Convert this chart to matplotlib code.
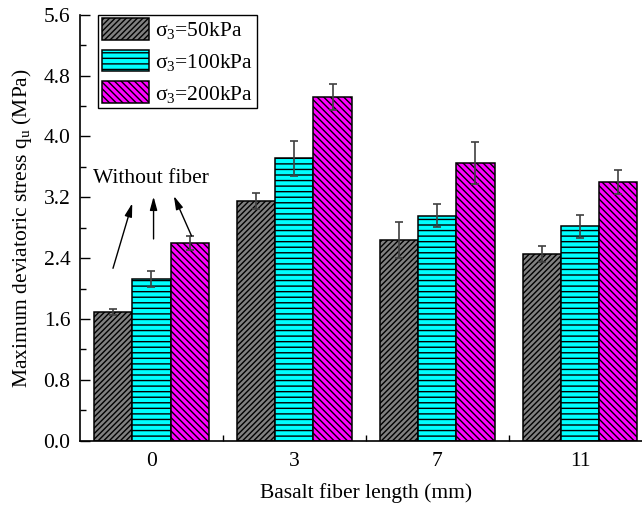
import matplotlib
matplotlib.use("Agg")
import matplotlib.pyplot as plt
import numpy as np

plt.rcParams['font.family'] = ['Liberation Serif', 'DejaVu Serif']
plt.rcParams['mathtext.fontset'] = 'custom'
plt.rcParams['mathtext.rm'] = 'Liberation Serif'
plt.rcParams['mathtext.it'] = 'Liberation Serif:italic'
plt.rcParams['hatch.linewidth'] = 1.0

categories = ['0', '3', '7', '11']
series_labels = ['σ$_{3}$=50kPa', 'σ$_{3}$=100kPa', 'σ$_{3}$=200kPa']
q50 = [1.69, 3.15, 2.64, 2.45]
q100 = [2.12, 3.71, 2.96, 2.82]
q200 = [2.60, 4.52, 3.65, 3.40]
err50 = [0.04, 0.10, 0.24, 0.105]
err100 = [0.105, 0.23, 0.155, 0.15]
err200 = [0.097, 0.167, 0.28, 0.155]
yticks = [0.0, 0.8, 1.6, 2.4, 3.2, 4.0, 4.8, 5.6]

values = [q50, q100, q200]
errors = [err50, err100, err200]
colors = ['#808080', '#00FFFF', '#FF00FF']
hatches = ['//////', '---', '\\\\\\\\\\']

FS = 15.5

fig = plt.figure(figsize=(6.42, 5.11), dpi=100)
ax = fig.add_axes([0.1246, 0.1376, 0.890, 0.8337])

x = np.arange(len(categories))
w = 0.268
for i in range(3):
    ax.bar(x + (i - 1) * w, values[i], width=w, color=colors[i], edgecolor='black',
           hatch=hatches[i], linewidth=1.1, label=series_labels[i], zorder=2)
    ax.errorbar(x + (i - 1) * w, values[i], yerr=errors[i], fmt='none',
                ecolor='#404040', elinewidth=1.2, capsize=2.7, capthick=1.2, zorder=3)

ax.set_xlim(-0.5, 3.5)
ax.set_ylim(0, 5.6)
ax.set_xticks(x)
ax.set_xticklabels(categories)
ax.set_xticks([0.5, 1.5, 2.5], minor=True)
ax.set_yticks(yticks)
ax.set_yticklabels([f'{v:.1f}' for v in yticks])
ax.set_yticks(np.arange(0.4, 5.6, 0.8), minor=True)
ax.set_axisbelow(True)
ax.tick_params(axis='both', which='major', direction='in', length=7, width=1.0,
               labelsize=FS, color='black')
ax.tick_params(axis='both', which='minor', direction='in', length=4, width=1.0)
ax.tick_params(axis='x', which='major', pad=8, length=0)
ax.tick_params(axis='y', which='major', pad=7)
ax.spines['top'].set_visible(False)
for s in ['left', 'bottom', 'right']:
    ax.spines[s].set_linewidth(1.2)

ax.set_xlabel('Basalt fiber length (mm)', fontsize=FS, labelpad=9)
ax.set_ylabel('Maximum deviatoric stress q$_{\\mathrm{u}}$ (MPa)', fontsize=FS, labelpad=7)

leg = ax.legend(loc='upper left', bbox_to_anchor=(0.032, 1.0), borderaxespad=0,
                fontsize=FS, handlelength=2.2, handleheight=1.18, labelspacing=0.4,
                handletextpad=0.3, borderpad=0.15, fancybox=False, framealpha=1,
                edgecolor='black')
leg.get_frame().set_linewidth(1.0)

ax.text(0.0, 3.45, 'Without fiber', ha='center', va='center', fontsize=FS)
arrow_kw = dict(arrowstyle='-|>,head_length=0.8,head_width=0.22', color='black', lw=1.0,
                shrinkA=0, shrinkB=0)
for (x0, y0, x1, y1) in [(-0.269, 2.266, -0.134, 3.121),
                         (0.015, 2.652, 0.015, 3.208),
                         (0.281, 2.691, 0.157, 3.217)]:
    ax.annotate('', xy=(x1, y1), xytext=(x0, y0), arrowprops=arrow_kw)

fig.savefig('out.png', dpi=100)
